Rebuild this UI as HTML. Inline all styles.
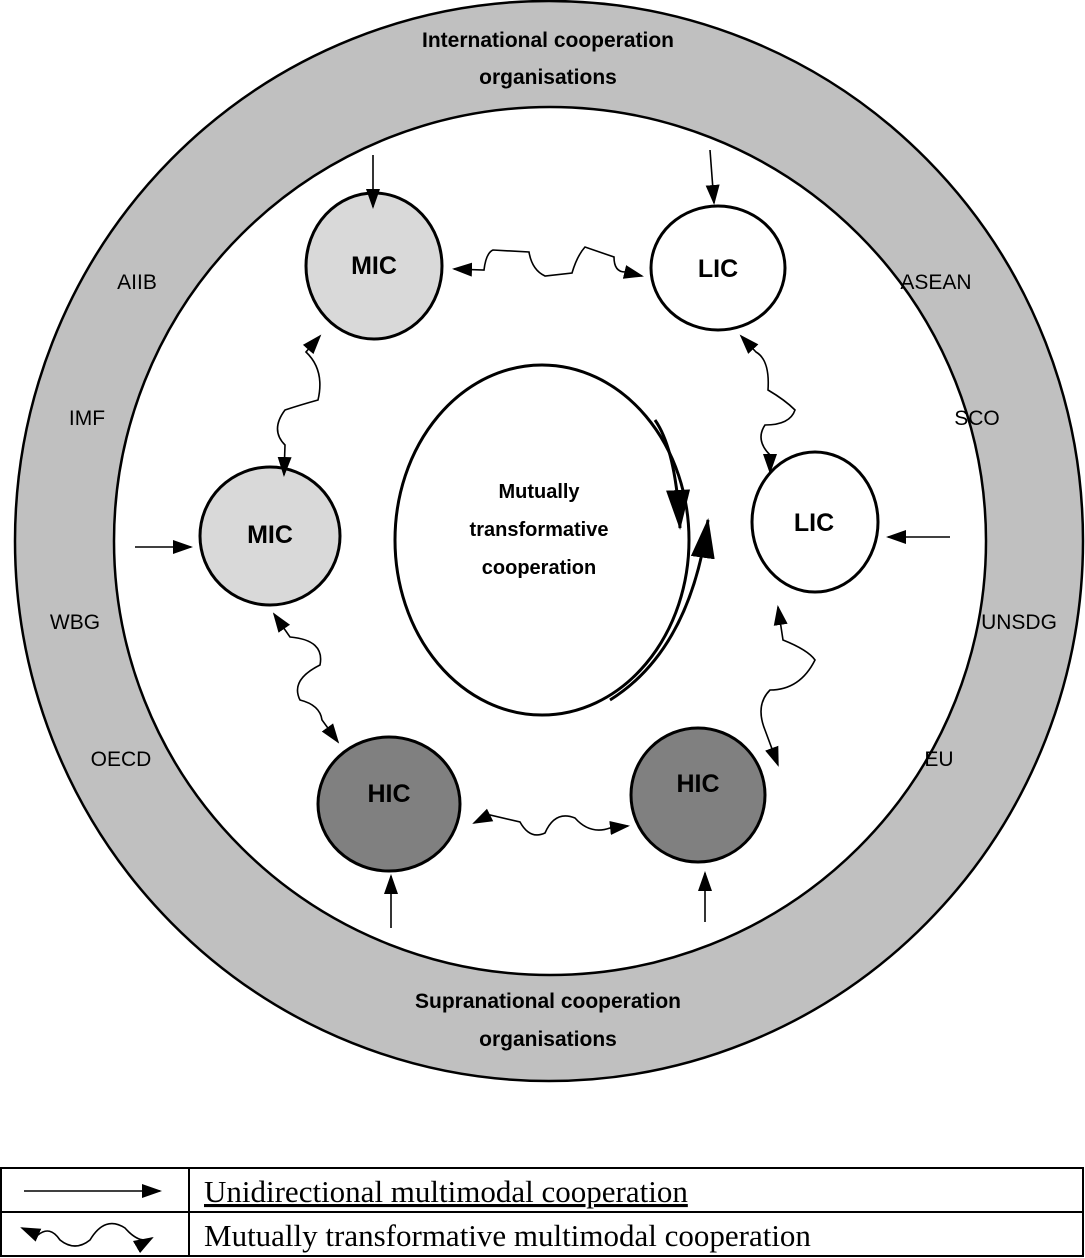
<!DOCTYPE html>
<html><head><meta charset="utf-8"><style>
body{margin:0;background:#fff;}
svg{display:block;}
.s{font-family:"Liberation Sans",sans-serif;}
</style></head><body>
<svg width="1085" height="1258" viewBox="0 0 1085 1258" xmlns="http://www.w3.org/2000/svg">
<defs>
<marker id="a" viewBox="0 0 10 10" refX="9" refY="5" markerWidth="7" markerHeight="7" orient="auto-start-reverse" markerUnits="userSpaceOnUse" style="overflow:visible">
<path d="M0,0 L10,5 L0,10 z" fill="#000" transform="scale(1.6) translate(-4,-2)"/>
</marker>
<marker id="b" viewBox="0 0 20 20" refX="18" refY="10" markerWidth="20" markerHeight="20" orient="auto-start-reverse" markerUnits="userSpaceOnUse">
<path d="M0,3 L20,10 L0,17 z" fill="#000"/>
</marker>
<marker id="big" viewBox="0 0 40 24" refX="38" refY="12" markerWidth="40" markerHeight="24" orient="auto" markerUnits="userSpaceOnUse">
<path d="M0,0 L40,12 L0,24 z" fill="#000"/>
</marker>
</defs>
<ellipse cx="549" cy="541" rx="534" ry="540" fill="#c0c0c0" stroke="#000" stroke-width="2.5"/>
<ellipse cx="550" cy="541" rx="436" ry="434" fill="#fff" stroke="#000" stroke-width="2.5"/>
<g class="s" font-size="21" text-anchor="middle">
<text x="548" y="47" font-weight="bold">International cooperation</text>
<text x="548" y="84" font-weight="bold">organisations</text>
<text x="548" y="1008" font-weight="bold">Supranational cooperation</text>
<text x="548" y="1046" font-weight="bold">organisations</text>
<text x="137" y="289">AIIB</text>
<text x="87" y="425">IMF</text>
<text x="75" y="629">WBG</text>
<text x="121" y="766">OECD</text>
<text x="936" y="289">ASEAN</text>
<text x="977" y="425">SCO</text>
<text x="1019" y="629">UNSDG</text>
<text x="939" y="766">EU</text>
</g>
<ellipse cx="542" cy="540" rx="147" ry="175" fill="#fff" stroke="#000" stroke-width="3"/>
<path d="M 655 420 Q 676 450 680 528" fill="none" stroke="#000" stroke-width="3" marker-end="url(#big)"/>
<path d="M 610 700 Q 690 650 708 520" fill="none" stroke="#000" stroke-width="3" marker-end="url(#big)"/>
<g class="s" font-size="20" font-weight="bold" text-anchor="middle">
<text x="539" y="498">Mutually</text>
<text x="539" y="536">transformative</text>
<text x="539" y="574">cooperation</text>
</g>
<g stroke="#000" stroke-width="3">
<ellipse cx="374" cy="266" rx="68" ry="73" fill="#d9d9d9"/>
<ellipse cx="718" cy="268" rx="67" ry="62" fill="#fff"/>
<ellipse cx="270" cy="536" rx="70" ry="69" fill="#d9d9d9"/>
<ellipse cx="815" cy="522" rx="63" ry="70" fill="#fff"/>
<ellipse cx="389" cy="804" rx="71" ry="67" fill="#808080"/>
<ellipse cx="698" cy="795" rx="67" ry="67" fill="#808080"/>
</g>
<g class="s" font-size="25" font-weight="bold" text-anchor="middle">
<text x="374" y="274">MIC</text>
<text x="718" y="277">LIC</text>
<text x="270" y="543">MIC</text>
<text x="814" y="531">LIC</text>
<text x="389" y="802">HIC</text>
<text x="698" y="792">HIC</text>
</g>
<g stroke="#000" stroke-width="1.6" fill="none">
<line x1="373" y1="155" x2="373" y2="207" marker-end="url(#b)"/>
<line x1="710" y1="150" x2="714" y2="203" marker-end="url(#b)"/>
<line x1="135" y1="547" x2="191" y2="547" marker-end="url(#b)"/>
<line x1="950" y1="537" x2="888" y2="537" marker-end="url(#b)"/>
<line x1="391" y1="928" x2="391" y2="876" marker-end="url(#b)"/>
<line x1="705" y1="922" x2="705" y2="873" marker-end="url(#b)"/>
<path d="M 454 269 L 484 270 Q 486 253 493 250 L 529 252 Q 532 270 545 276 L 572 273 Q 577 256 585 247 L 614 257 Q 614 272 625 272 L 642 276" marker-start="url(#b)" marker-end="url(#b)"/>
<path d="M 320 336 L 306 352 Q 325 370 318 400 Q 300 405 285 410 Q 270 430 285 445 L 284 475" marker-start="url(#b)" marker-end="url(#b)"/>
<path d="M 741 336 L 756 352 Q 770 360 768 390 Q 785 400 795 410 Q 790 425 765 425 Q 755 440 770 455 L 770 472" marker-start="url(#b)" marker-end="url(#b)"/>
<path d="M 274 614 L 290 637 Q 325 640 320 665 Q 290 680 300 700 Q 320 705 322 720 L 338 742" marker-start="url(#b)" marker-end="url(#b)"/>
<path d="M 778 607 L 783 640 Q 808 650 815 660 Q 800 690 770 690 Q 755 705 765 730 L 778 765" marker-start="url(#b)" marker-end="url(#b)"/>
<path d="M 474 823 L 490 815 L 520 822 Q 530 840 545 833 Q 555 810 575 818 Q 590 835 610 828 L 628 826" marker-start="url(#b)" marker-end="url(#b)"/>
</g>
<g stroke="#000" stroke-width="2" fill="none">
<rect x="1" y="1168" width="1082" height="88"/>
<line x1="1" y1="1212" x2="1083" y2="1212"/>
<line x1="189" y1="1168" x2="189" y2="1256"/>
<line x1="24" y1="1191" x2="160" y2="1191" stroke-width="1.6" marker-end="url(#b)"/>
<path d="M 22 1228 L 38 1235 Q 50 1225 60 1240 Q 75 1252 90 1240 Q 105 1215 125 1228 Q 140 1245 152 1238" stroke-width="1.6" marker-start="url(#b)" marker-end="url(#b)"/>
</g>
<g font-family="Liberation Serif,serif" font-size="31">
<text x="204" y="1202" text-decoration="underline">Unidirectional multimodal cooperation</text>
<text x="204" y="1246">Mutually transformative multimodal cooperation</text>
</g>
</svg>
</body></html>
